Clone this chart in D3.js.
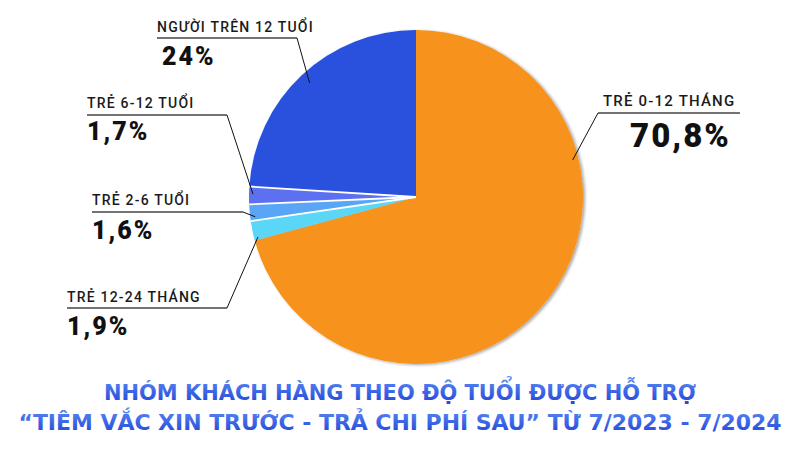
<!DOCTYPE html>
<html>
<head>
<meta charset="utf-8">
<script src="https://cdn.jsdelivr.net/npm/d3@7"></script>
<style>
  body { margin: 0; background: #fff; }
  svg { display: block; }
</style>
</head>
<body>
<div id="chart"></div>
<script>
// data
const groups  = ["TRẺ 0-12 THÁNG", "TRẺ 12-24 THÁNG", "TRẺ 2-6 TUỔI", "TRẺ 6-12 TUỔI", "NGƯỜI TRÊN 12 TUỔI"];
const shares  = [70.8, 1.9, 1.6, 1.7, 24];
const pctText = ["70,8%", "1,9%", "1,6%", "1,7%", "24%"];
const colors  = ["#f7931e", "#5ad6f6", "#58a6f5", "#5b6ff0", "#2c51dd"];
const titleLines = [
  "NHÓM KHÁCH HÀNG THEO ĐỘ TUỔI ĐƯỢC HỖ TRỢ",
  "“TIÊM VẮC XIN TRƯỚC - TRẢ CHI PHÍ SAU” TỪ 7/2023 - 7/2024"
];

// label layout: text corner, underline span, leader anchor on the pie (angle deg, radius)
const layout = [
  { x: 603, y: 106, ux0: 598, ux1: 740, uy: 113, px: 630, py: 147, pSize: 33, lSize: 15, ang: 76.7, r: 161 },
  { x: 67,  y: 302, ux0: 67,  ux1: 227, uy: 308, px: 67,  py: 335, pSize: 25, lSize: 14, ang: 255.8, r: 163 },
  { x: 92,  y: 205, ux0: 92,  ux1: 243, uy: 212, px: 92,  py: 239, pSize: 25, lSize: 14, ang: 263, r: 162 },
  { x: 87,  y: 108, ux0: 87,  ux1: 227, uy: 115, px: 87,  py: 140, pSize: 25, lSize: 14, ang: 271, r: 163 },
  { x: 157, y: 32,  ux0: 157, ux1: 297, uy: 38,  px: 162, py: 65,  pSize: 25, lSize: 14, ang: 317, r: 156 }
];

const W = 800, H = 450;
const cx = 416, cy = 197, R = 167;

const svg = d3.select("#chart").append("svg")
  .attr("width", W).attr("height", H);

const defs = svg.append("defs");
defs.append("filter").attr("id", "shadow")
  .attr("x", "-10%").attr("y", "-10%").attr("width", "120%").attr("height", "120%")
  .append("feDropShadow")
    .attr("dx", 2).attr("dy", 1).attr("stdDeviation", 1.5)
    .attr("flood-color", "#000").attr("flood-opacity", 0.35);

const grad = defs.append("linearGradient").attr("id", "titleGrad")
  .attr("x1", 0).attr("y1", 0).attr("x2", 0).attr("y2", 1);
grad.append("stop").attr("offset", "0%").attr("stop-color", "#5d8ff6");
grad.append("stop").attr("offset", "100%").attr("stop-color", "#2143d6");

// pie
const pie = d3.pie().sort(null).value(d => d)(shares);
const arc = d3.arc().innerRadius(0).outerRadius(R);

const g = svg.append("g").attr("transform", `translate(${cx},${cy})`);
g.append("g").attr("filter", "url(#shadow)")
  .selectAll("path")
  .data(pie)
  .join("path")
    .attr("d", arc)
    .attr("fill", (d, i) => colors[i]);

// white separators between the small slices
g.selectAll("line.sep")
  .data(pie.slice(2))
  .join("line")
    .attr("class", "sep")
    .attr("x1", 0).attr("y1", 0)
    .attr("x2", d => R * Math.sin(d.startAngle))
    .attr("y2", d => -R * Math.cos(d.startAngle))
    .attr("stroke", "#fff").attr("stroke-width", 1.8);

// labels
layout.forEach((L, i) => {
  const a = L.ang * Math.PI / 180;
  const ax = cx + L.r * Math.sin(a);
  const ay = cy - L.r * Math.cos(a);
  const joinX = (ax > cx) ? L.ux0 : L.ux1;

  svg.append("line")
    .attr("x1", L.ux0).attr("x2", L.ux1)
    .attr("y1", L.uy).attr("y2", L.uy)
    .attr("stroke", "#444").attr("stroke-width", 1.6);
  svg.append("line")
    .attr("x1", joinX).attr("y1", L.uy)
    .attr("x2", ax).attr("y2", ay)
    .attr("stroke", "#111").attr("stroke-width", 1);

  svg.append("text")
    .attr("x", L.x).attr("y", L.y)
    .style("font-family", "Roboto, 'DejaVu Sans', sans-serif")
    .style("font-weight", 500)
    .style("font-size", L.lSize + "px")
    .style("letter-spacing", "1.2px")
    .attr("fill", "#1a1a1a")
    .text(groups[i]);

  svg.append("text")
    .attr("x", L.px).attr("y", L.py)
    .style("font-family", "Roboto, 'Liberation Sans', sans-serif")
    .style("font-weight", 900)
    .style("font-size", L.pSize + "px")
    .style("letter-spacing", "2px")
    .attr("fill", "#111")
    .text(pctText[i]);
});

// title
const titleY = [400, 430];
const titleW = [592, 763];
titleLines.forEach((t, i) => {
  svg.append("text")
    .attr("x", 400).attr("y", titleY[i])
    .attr("text-anchor", "middle")
    .attr("textLength", titleW[i])
    .attr("lengthAdjust", "spacingAndGlyphs")
    .style("font-family", "'DejaVu Sans Condensed', 'DejaVu Sans', sans-serif")
    .style("font-stretch", "condensed")
    .style("font-weight", 700)
    .style("font-size", "22px")
    .attr("fill", "url(#titleGrad)")
    .text(t);
});
</script>
</body>
</html>
